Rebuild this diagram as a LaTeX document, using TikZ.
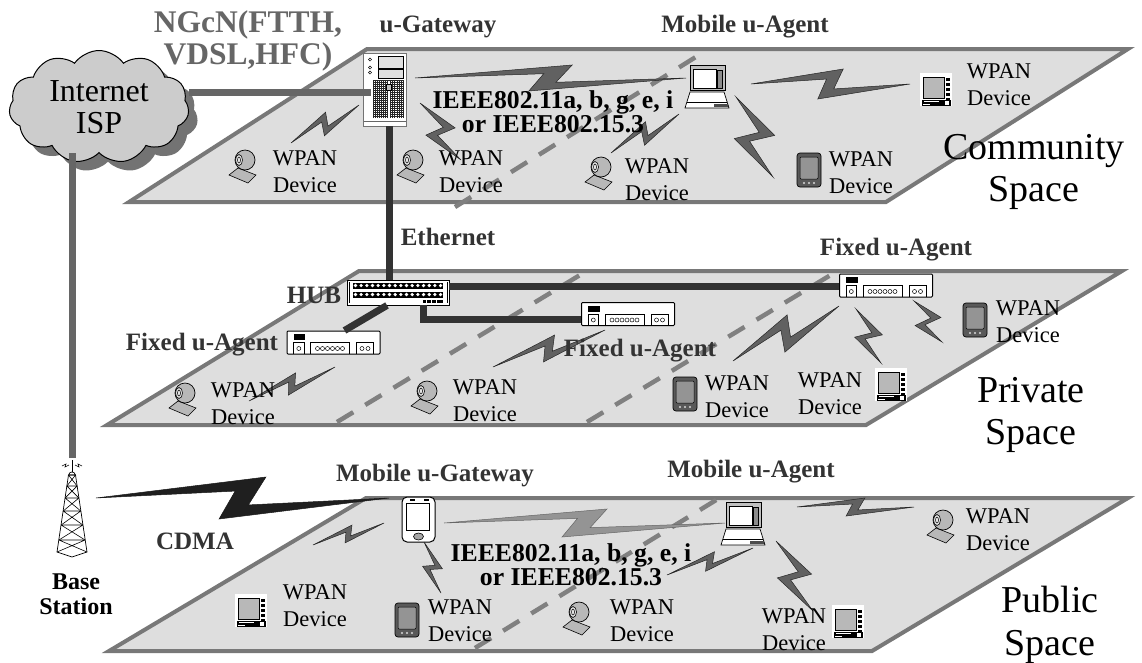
\documentclass[tikz,border=0pt]{standalone}
\usepackage{fontspec}
\setmainfont{Liberation Serif}
\usetikzlibrary{calc,shapes.symbols,shadows}

\newcommand{\zap}[4][bolt]{\draw[#1] (#2) -- ($(#2)!.58!(#3)!#4pt!90:(#3)$) -- ($(#2)!.52!(#3)!-.33*#4pt!90:(#3)$)
  -- (#3) -- ($(#2)!.42!(#3)!-#4pt!90:(#3)$) -- ($(#2)!.475!(#3)!.33*#4pt!90:(#3)$) -- cycle;}

\begin{document}
\begin{tikzpicture}[
  x=1pt,
  y=-1pt,
  plane/.style={draw=black!53, fill=black!13, line width=4pt, miter limit=20},
  split/.style={draw=black!50, line width=4.5pt, dash pattern=on 19pt off 14pt},
  wan/.style={draw=black!60, line width=7pt},
  lan/.style={draw=black!80, line width=7pt},
  bolt/.style={draw=black!85, fill=black!62, line width=0.5pt, line join=miter},
  paleb/.style={draw=black!60, fill=black!42, line width=0.5pt},
  cdma/.style={draw=black!90, fill=black!88, line width=0.5pt},
  iconbox/.style={draw=black, fill=white, line width=1pt, inner sep=0pt, rectangle},
  dev/.style={font=\fontsize{22.5}{27}\selectfont, align=center, inner sep=0pt},
  tag/.style={font=\fontsize{25}{25}\selectfont\bfseries, text=black!80, align=center, inner sep=0pt},
  std/.style={font=\fontsize{25.7}{24.5}\selectfont\bfseries, align=center, inner sep=0pt},
  spc/.style={font=\fontsize{38}{42.5}\selectfont, align=center, inner sep=0pt},
  pics/camicon/.style={code={
    \draw[fill=black!28, line width=0.6pt] (-16,15) -- (-7,8) -- (11,15) -- (3,23) -- cycle;
    \draw[fill=black!28, line width=0.7pt] (0,0) circle (10pt);
    \draw[fill=black!10, line width=0.6pt] (-6,0) ellipse (3.5pt and 5.5pt);
    \draw[line width=0.5pt] (-6,0) ellipse (1.5pt and 3pt);
  }},
  pics/pdaicon/.style={code={
    \draw[fill=black!65, line width=0.7pt, rounded corners=3pt] (-12,-17) rectangle (12,17);
    \draw[fill=black!42, line width=0.5pt, rounded corners=1pt] (-9,-13) rectangle (9,9);
    \foreach \i in {-5,0,5} \fill[black!15] (\i,13) circle (1.2pt);
  }},
  pics/tvicon/.style={code={
    \fill[white] (-16,-17) rectangle (16,16);
    \draw[fill=black!28, line width=0.7pt] (-13,-13) rectangle (8,8);
    \foreach \j in {-12,-7,-2,3,8} \fill[black] (10,\j) rectangle (14,{\j+3});
    \fill[black] (-14,10) rectangle (15,16);
    \fill[white] (-12,11) rectangle (3,12);
    \fill[white] (-13,14) rectangle (-6,15);
    \fill[white] (9,11) rectangle (13,15);
  }},
  pics/lapicon/.style={code={
    \draw[fill=black!25, line width=0.7pt] (-17,-22) rectangle (18,3);
    \draw[fill=white, line width=0.6pt] (-14,-18) rectangle (9,1);
    \draw[fill=black!45, line width=0.4pt] (10,-17) rectangle (15,1);
    \draw[fill=white, line width=0.7pt] (-17,5) -- (17,5) -- (22,21) -- (-22,21) -- cycle;
    \draw[line width=0.6pt] (-20,15) -- (20,15);
    \fill[black!70] (7,17) rectangle (21,20);
  }},
  pics/mgwicon/.style={code={
    \node[iconbox, minimum width=33pt, minimum height=45pt, rounded corners=5pt] (-box) at (0,0) {};
    \draw[fill=white, line width=0.6pt] (-12,-16) rectangle (10.5,10.5);
    \fill[black] (-9,-21) rectangle (-4,-19);
    \fill[black] (5,-21) rectangle (10,-19);
    \draw[fill=black!35, line width=0.6pt] (0,17) ellipse (5pt and 3.5pt);
  }},
  pics/srvicon/.style={code={
    \node[iconbox, draw=black!55, line width=0.7pt, minimum width=43pt, minimum height=73pt] (-box) at (0,0) {};
    \draw[fill=black!12, line width=0.5pt] (-6.5,-33.5) rectangle (19,-21.5);
    \draw[fill=black!12, line width=0.5pt] (-6.5,-20) rectangle (19,-11);
    \foreach \j in {-30,-22,-17} \draw[line width=0.5pt] (-14.5,\j) circle (1.6pt);
    \fill[black!85] (-12,-9.5) rectangle (19,28.5);
    \foreach \i in {0,...,6} \foreach \j in {0,...,18} \fill[white] ({-11+\i*2},{-8.5+\j*2}) rectangle +(1,1);
    \foreach \i in {0,...,6} \foreach \j in {0,...,18} \fill[white] ({6.5+\i*1.8},{-8.5+\j*2}) rectangle +(1,1);
    \fill[white] (3.5,-9) rectangle (5.5,28);
    \draw[fill=black!25, line width=0.3pt] (1.5,-5) rectangle (6.5,1);
    \draw[black!60, line width=0.6pt] (-21,32) -- (21,32);
  }},
  pics/hubicon/.style={code={
    \node[iconbox, line width=0.8pt, minimum width=102pt, minimum height=25pt] (-box) at (0,0) {};
    \draw[line width=0.5pt] (-49,-10.5) -- (-49,10.5) (49,-10.5) -- (49,10.5);
    \fill[black] (-45,-10) rectangle (45,-4);
    \fill[black] (-45,-1) rectangle (45,5);
    \foreach \i in {0,...,15} {
      \fill[white] ({-42.5+\i*5.67},-7) circle (1.8pt);
      \fill[white] ({-42.5+\i*5.67},2) circle (1.8pt);
    }
    \fill[black] (25,7.5) rectangle (45,10);
    \foreach \i in {28,33,38} \fill[white] (\i,7.5) rectangle +(1,2.5);
  }},
  pics/agticon/.style={code={
    \node[iconbox, rounded corners=1pt, minimum width=93pt, minimum height=23pt] (-box) at (0,0) {};
    \fill[black] (-40,-8.5) rectangle (-28.5,-2.5);
    \draw[line width=0.6pt] (-40,11.5) -- (-40,0) -- (-29.5,0) -- (-29.5,11.5);
    \draw[line width=0.6pt] (-23,11.5) -- (-23,0) -- (16,0) -- (16,11.5);
    \draw[line width=0.6pt] (23,11.5) -- (23,0) -- (40,0) -- (40,11.5);
    \draw[line width=0.5pt] (-34.7,6) circle (2pt);
    \foreach \i in {0,...,5} \draw[line width=0.5pt] ({-16+\i*5},6) circle (2pt);
    \foreach \i in {0,1} \draw[line width=0.5pt] ({28.5+\i*6},6) circle (2pt);
  }},
  pics/twricon/.style={code={
    \coordinate (-top) at (0,0);
    \draw[line width=0.7pt] (0,2) -- (0,15);
    \draw[line width=0.6pt] (-10,8) -- (-6,6) -- (-7,9) -- (-3,7) (10,8) -- (6,6) -- (7,9) -- (3,7);
    \draw[line width=0.7pt, fill=white] (-3.5,17) .. controls (-2.5,13) and (2.5,13) .. (3.5,17) -- cycle;
    \draw[line width=0.7pt] (-3.5,17) -- (-15,94) -- (0,99) -- (15,94) -- (3.5,17);
    \foreach \ya/\ha/\yb/\hb in {17/3.5/28/5.1, 28/5.1/40/6.9, 40/6.9/53/8.8, 53/8.8/67/10.9, 67/10.9/82/13.1, 82/13.1/94/15}
      \draw[line width=0.6pt] (-\ha,\ya) -- (\ha,\ya) (-\ha,\ya) -- (\hb,\yb) (\ha,\ya) -- (-\hb,\yb);
  }}
]
\useasboundingbox (0,0) rectangle (1142,662);

% planes
\draw[plane] (129,202) -- (367,49) -- (1128,49) -- (886,202) -- cycle;
\draw[plane] (107,425) -- (359,271) -- (1122,271) -- (866,425) -- cycle;
\draw[plane] (109,651) -- (366,498) -- (1128,498) -- (872,651) -- cycle;

\coordinate (sc1) at (455,207); \coordinate (sc2) at (699,55);
\coordinate (sp1) at (337,422); \coordinate (sp2) at (585,272);
\coordinate (sp3) at (587,422); \coordinate (sp4) at (834,273);
\coordinate (su1) at (475,648); \coordinate (su2) at (721,497);
\draw[split] (sc1) -- (sc2);
\draw[split] (sp1) -- (sp2);
\draw[split] (sp3) -- (sp4);
\draw[split] (su1) -- (su2);

% equipment
\node[cloud, cloud puffs=11, cloud puff arc=110, aspect=1.6, draw=black, line width=1pt, fill=black!20,
  minimum width=180pt, minimum height=113pt, inner sep=0pt, font=\fontsize{32}{32}\selectfont, align=center,
  copy shadow={shadow xshift=9pt, shadow yshift=-9pt, draw=none, fill=black!55}] (isp) at (99,107) {Internet\\ISP};

\pic (gw) at (384.5,89.5) {srvicon};
\pic (hub) at (398,292.5) {hubicon};
\pic (fa1) at (333.5,342.5) {agticon};
\pic (fa2) at (628,314) {agticon};
\pic (fa3) at (886,285.5) {agticon};
\pic (mgw) at (418.5,519.5) {mgwicon};
\pic (twr) at (72,458) {twricon};

\pic at (707,87) {lapicon};
\pic at (743,524) {lapicon};

\pic at (245,160) {camicon};
\pic at (413,160) {camicon};
\pic at (601,167) {camicon};
\pic at (185,393) {camicon};
\pic at (427,391) {camicon};
\pic at (943,520) {camicon};
\pic at (579,612) {camicon};

\pic at (809,170) {pdaicon};
\pic at (975,320) {pdaicon};
\pic at (685,394) {pdaicon};
\pic at (407,620) {pdaicon};

\pic at (936,90) {tvicon};
\pic at (891,385) {tvicon};
\pic at (251,611) {tvicon};
\pic at (848,622) {tvicon};

% wires
\coordinate (wanE) at ([xshift=8pt,yshift=-2.5pt]gw-box.west);
\draw[wan] (wanE) -- (wanE -| isp.east);
\draw[wan] (twr-top) -- (twr-top |- isp.south);
\coordinate (ethT) at ([xshift=4.5pt]gw-box.south);
\draw[lan] (ethT) -- (ethT |- hub-box.north);
\coordinate (hubS) at ([xshift=-11pt]hub-box.south);
\coordinate (agtN) at ([xshift=11pt]fa1-box.north);
\draw[lan] (hubS) -- (agtN);
\coordinate (hubE) at ([yshift=6.5pt]hub-box.east);
\draw[lan] (hubE) -- (hubE -| fa3-box.west);
\coordinate (hubD) at ([xshift=25pt]hub-box.south);
\draw[lan] (hubD) |- ([yshift=-5pt]fa2-box.west);

% radio links
\coordinate (a1) at (415,78); \coordinate (b1) at (686,78);
\coordinate (a2) at (751,84); \coordinate (b2) at (910,84);
\coordinate (a3) at (736,97); \coordinate (b3) at (773,177);
\coordinate (a4) at (611,153); \coordinate (b4) at (679,114);
\coordinate (a5) at (291,143); \coordinate (b5) at (359,105);
\coordinate (a6) at (420,103); \coordinate (b6) at (461,160);
\coordinate (a7) at (249,401); \coordinate (b7) at (335,367);
\coordinate (a8) at (493,367); \coordinate (b8) at (605,330);
\coordinate (a9) at (733,361); \coordinate (b9) at (839,306);
\coordinate (a10) at (856,309); \coordinate (b10) at (881,363);
\coordinate (a11) at (914,301); \coordinate (b11) at (942,342);
\coordinate (a12) at (96,498); \coordinate (b12) at (389,498);
\coordinate (a13) at (313,545); \coordinate (b13) at (384,523);
\coordinate (a14) at (424,542); \coordinate (b14) at (441,593);
\coordinate (a15) at (444,523); \coordinate (b15) at (725,523);
\coordinate (a16) at (797,507); \coordinate (b16) at (914,507);
\coordinate (a17) at (667,575); \coordinate (b17) at (753,548);
\coordinate (a18) at (776,541); \coordinate (b18) at (813,611);

\zap{a1}{b1}{13}
\zap{a2}{b2}{15}
\zap{a3}{b3}{19}
\zap{a4}{b4}{10}
\zap{a5}{b5}{10}
\zap{a6}{b6}{14}
\zap{a7}{b7}{9}
\zap{a8}{b8}{11}
\zap{a9}{b9}{16}
\zap{a10}{b10}{13}
\zap{a11}{b11}{13}
\zap[cdma]{a12}{b12}{21}
\zap{a13}{b13}{7.5}
\zap{a14}{b14}{9}
\zap[paleb]{a15}{b15}{14}
\zap{a16}{b16}{9}
\zap{a17}{b17}{8}
\zap{a18}{b18}{16}

% labels
\node[font=\fontsize{31.5}{32}\selectfont\bfseries, text=black!60, align=center, inner sep=0pt] (ngcn) at (248,41) {NGcN(FTTH,\\VDSL,HFC)};
\node[tag] (lgw) at (438,27) {u-Gateway};
\node[tag] (lma1) at (745,27) {Mobile u-Agent};
\node[std] (ieee1) at (553,112) {IEEE802.11a, b, g, e, i\\or IEEE802.15.3};
\node[tag] (leth) at (448,237) {Ethernet};
\node[tag] (lhub) at (314,295) {HUB};
\node[tag] (lfa1) at (202,345) {Fixed u-Agent};
\node[tag] (lfa2) at (640,351) {Fixed u-Agent};
\node[tag] (lfa3) at (896,250) {Fixed u-Agent};
\node[tag] (lmgw) at (435,476) {Mobile u-Gateway};
\node[tag] (lma2) at (751,472) {Mobile u-Agent};
\node[tag] (lcdma) at (195,541) {CDMA};
\node[std, font=\fontsize{24}{24.5}\selectfont\bfseries] (lbase) at (76,594) {Base\\Station};
\node[std] (ieee2) at (571,565) {IEEE802.11a, b, g, e, i\\or IEEE802.15.3};

\node[dev] (c1) at (305,172) {WPAN\\Device};
\node[dev] (c2) at (471,172) {WPAN\\Device};
\node[dev] (c3) at (657,180) {WPAN\\Device};
\node[dev] (c4) at (861,173) {WPAN\\Device};
\node[dev] (c5) at (999,85) {WPAN\\Device};
\node[dev] (p1) at (243,404) {WPAN\\Device};
\node[dev] (p2) at (485,401) {WPAN\\Device};
\node[dev] (p3) at (737,397) {WPAN\\Device};
\node[dev] (p4) at (830,394) {WPAN\\Device};
\node[dev] (p5) at (1028,322) {WPAN\\Device};
\node[dev] (u1) at (315,606) {WPAN\\Device};
\node[dev] (u2) at (460,621) {WPAN\\Device};
\node[dev] (u3) at (642,621) {WPAN\\Device};
\node[dev] (u4) at (794,630) {WPAN\\Device};
\node[dev] (u5) at (998,530) {WPAN\\Device};

\node[spc] (scom) at (1034,172) {Community\\Space};
\node[spc] (spri) at (1031,415) {Private\\Space};
\node[spc] (spub) at (1050,625) {Public\\Space};
\end{tikzpicture}
\end{document}
